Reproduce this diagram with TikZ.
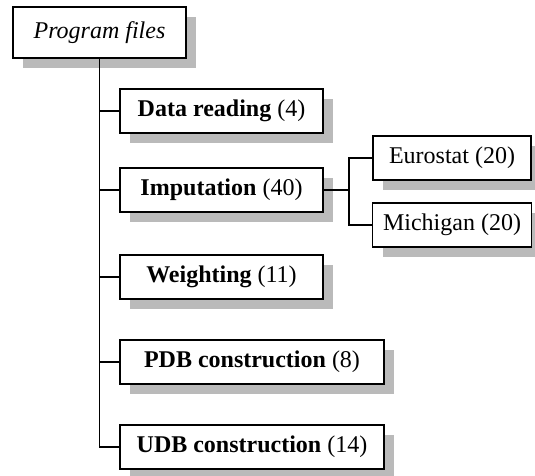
\documentclass[tikz,border=0pt]{standalone}
\usepackage{fontspec}
\setmainfont{Liberation Serif}
\usepackage{tikz}
\usetikzlibrary{positioning}
\usetikzlibrary{shadows}

\tikzset{
  filebox/.style={draw=black, line width=1.8pt, fill=white, inner sep=0pt,
    minimum height=44pt, align=center,
    font=\fontsize{24}{28}\selectfont,
    drop shadow={shadow xshift=10pt, shadow yshift=-10pt, fill=black!27, opacity=1}},
  treeline/.style={black, line width=1.6pt}
}

\begin{document}
\begin{tikzpicture}[x=1pt, y=-1pt]

\useasboundingbox (0,0) rectangle (535,476);

% top box
\node[filebox, minimum width=173pt, minimum height=51pt] (prog) at (99.5,32.5) {\textit{Program files}};

% first level
\node[filebox, minimum width=203pt] (data) at (221.5,111) {\textbf{Data reading} (4)};
\node[filebox, minimum width=203pt] (imp) at (221.5,190) {\textbf{Imputation} (40)};
\node[filebox, minimum width=203pt] (weight) at (221.5,277) {\textbf{Weighting} (11)};
\node[filebox, minimum width=264pt] (pdb) at (252,362) {\textbf{PDB construction} (8)};
\node[filebox, minimum width=264pt] (udb) at (252,447) {\textbf{UDB construction} (14)};

% imputation methods
\node[filebox, minimum width=158pt] (euro) at (452,158) {Eurostat (20)};
\node[filebox, minimum width=159pt] (mich) at (452,225) {Michigan (20)};

\coordinate[right=25pt of imp.east] (split);

% tree lines
\draw[treeline] (prog.south) |- (data.west);
\draw[treeline] (prog.south) |- (imp.west);
\draw[treeline] (prog.south) |- (weight.west);
\draw[treeline] (prog.south) |- (pdb.west);
\draw[treeline] (prog.south) |- (udb.west);

\draw[treeline] (imp.east) -- (split);
\draw[treeline] (split) |- (euro.west);
\draw[treeline] (split) |- (mich.west);

\end{tikzpicture}
\end{document}
